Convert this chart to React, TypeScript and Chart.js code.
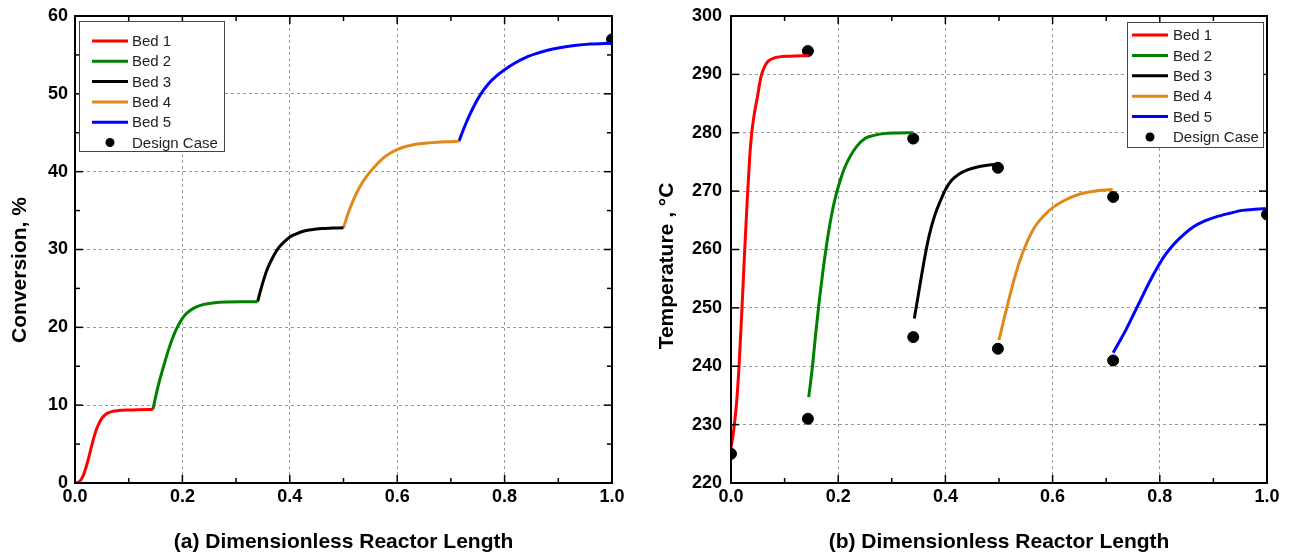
import React, { useEffect, useRef } from "react";
import { Chart, registerables } from "chart.js";
Chart.register(...registerables);

const FONT = "'Liberation Sans', Arial, sans-serif";

// ---------- (a) Conversion ----------
const convBed1X = [0, 0.005, 0.01, 0.015, 0.02, 0.025, 0.03, 0.035, 0.04, 0.045, 0.05, 0.055, 0.06, 0.07, 0.08, 0.1, 0.12, 0.145];
const convBed1Y = [0, 0.05, 0.3, 0.9, 1.9, 3.1, 4.5, 5.8, 6.9, 7.7, 8.3, 8.7, 8.95, 9.2, 9.3, 9.38, 9.42, 9.45];
const convBed2X = [0.145, 0.155, 0.165, 0.175, 0.185, 0.195, 0.205, 0.215, 0.225, 0.24, 0.26, 0.28, 0.31, 0.34];
const convBed2Y = [9.45, 12.5, 15.0, 17.3, 19.2, 20.6, 21.6, 22.2, 22.6, 22.95, 23.15, 23.25, 23.3, 23.3];
const convBed3X = [0.34, 0.345, 0.35, 0.355, 0.36, 0.37, 0.38, 0.39, 0.4, 0.41, 0.425, 0.44, 0.46, 0.48, 0.5];
const convBed3Y = [23.3, 24.6, 25.8, 26.9, 27.8, 29.2, 30.3, 31.0, 31.6, 31.95, 32.35, 32.55, 32.7, 32.75, 32.8];
const convBed4X = [0.5, 0.51, 0.52, 0.53, 0.54, 0.55, 0.56, 0.575, 0.59, 0.61, 0.63, 0.66, 0.69, 0.715];
const convBed4Y = [32.8, 34.9, 36.6, 38.0, 39.1, 40.0, 40.8, 41.8, 42.5, 43.1, 43.45, 43.7, 43.85, 43.9];
const convBed5X = [0.715, 0.725, 0.735, 0.745, 0.755, 0.77, 0.785, 0.8, 0.82, 0.84, 0.86, 0.88, 0.9, 0.93, 0.96, 1.0];
const convBed5Y = [43.9, 45.7, 47.3, 48.7, 49.9, 51.3, 52.3, 53.1, 54.0, 54.7, 55.2, 55.6, 55.9, 56.2, 56.4, 56.5];
const convDesignX = [1.0];
const convDesignY = [57];

// ---------- (b) Temperature ----------
const tempBed1X = [0, 0.005, 0.0106, 0.015, 0.02, 0.0246, 0.03, 0.035, 0.0387, 0.044, 0.049, 0.056, 0.063, 0.07, 0.08, 0.09, 0.11, 0.145];
const tempBed1Y = [226, 229, 234, 240, 249, 258, 268, 276, 280, 283.5, 286, 289.6, 291.4, 292.3, 292.8, 293.0, 293.1, 293.2];
const tempBed2X = [0.145, 0.152, 0.158, 0.165, 0.1725, 0.18, 0.187, 0.195, 0.204, 0.212, 0.222, 0.235, 0.25, 0.265, 0.285, 0.31, 0.34];
const tempBed2Y = [234.7, 240, 245.6, 251.5, 257, 261.8, 265.6, 269, 271.9, 274, 275.9, 277.7, 279, 279.5, 279.85, 279.95, 280];
const tempBed3X = [0.342, 0.349, 0.356, 0.363, 0.37, 0.38, 0.391, 0.401, 0.412, 0.425, 0.44, 0.458, 0.475, 0.49, 0.5];
const tempBed3Y = [248.2, 252, 255.8, 259.4, 262.5, 265.8, 268.4, 270.4, 271.9, 272.9, 273.6, 274.1, 274.4, 274.55, 274.6];
const tempBed4X = [0.5, 0.509, 0.518, 0.528, 0.539, 0.552, 0.567, 0.584, 0.602, 0.622, 0.644, 0.665, 0.687, 0.712];
const tempBed4Y = [244.5, 248, 251.3, 254.8, 258.1, 261.2, 263.9, 265.8, 267.3, 268.4, 269.3, 269.8, 270.1, 270.3];
const tempBed5X = [0.713, 0.724, 0.736, 0.75, 0.764, 0.78, 0.796, 0.811, 0.827, 0.845, 0.863, 0.884, 0.905, 0.93, 0.954, 0.978, 1.0];
const tempBed5Y = [242.3, 244.1, 246.1, 248.7, 251.3, 254.3, 257, 259.2, 261, 262.6, 263.9, 264.9, 265.6, 266.2, 266.7, 266.9, 267];
const tempDesignX = [0, 0.1435, 0.1435, 0.34, 0.34, 0.498, 0.498, 0.713, 0.713, 1.0];
const tempDesignY = [225, 294, 231, 279, 245, 274, 243, 269, 241, 266];

const bedLabels = ["Bed 1", "Bed 2", "Bed 3", "Bed 4", "Bed 5"];
const designLabel = "Design Case";
const bedColors = ["#ff0000", "#008000", "#000000", "#e0881a", "#0000ff"];

const zip = (xs: number[], ys: number[]) => xs.map((x, i) => ({ x, y: ys[i] }));

function buildDatasets(beds: [number[], number[]][], dX: number[], dY: number[]) {
  const ds: any[] = beds.map(([xs, ys], i) => ({
    label: bedLabels[i],
    data: zip(xs, ys),
    showLine: true,
    borderColor: bedColors[i],
    backgroundColor: bedColors[i],
    borderWidth: 3,
    pointRadius: 0,
    cubicInterpolationMode: "monotone",
  }));
  ds.push({
    label: designLabel,
    data: zip(dX, dY),
    showLine: false,
    pointRadius: 5.5,
    pointBackgroundColor: "#000",
    pointBorderColor: "#000",
    backgroundColor: "#000",
  });
  return ds;
}

const decoPlugin = {
  id: "deco",
  afterDatasetsDraw(chart: any, _args: any, opts: any) {
    const { ctx, chartArea: a, scales } = chart;
    const xs = scales.x;
    const ys = scales.y;
    ctx.save();
    ctx.strokeStyle = "#000";
    ctx.lineWidth = 1.5;
    const seg = (x1: number, y1: number, x2: number, y2: number) => {
      ctx.beginPath();
      ctx.moveTo(x1, y1);
      ctx.lineTo(x2, y2);
      ctx.stroke();
    };
    const nx = Math.round((xs.max - xs.min) / opts.xMinor);
    for (let i = 0; i <= nx; i++) {
      const v = xs.min + i * opts.xMinor;
      const px = xs.getPixelForValue(v);
      const len = i % opts.xRatio === 0 ? 8 : 5;
      seg(px, a.bottom, px, a.bottom - len);
      seg(px, a.top, px, a.top + len);
    }
    const ny = Math.round((ys.max - ys.min) / opts.yMinor);
    for (let i = 0; i <= ny; i++) {
      const v = ys.min + i * opts.yMinor;
      const py = ys.getPixelForValue(v);
      const len = i % opts.yRatio === 0 ? 8 : 5;
      seg(a.left, py, a.left + len, py);
      seg(a.right, py, a.right - len, py);
    }
    ctx.lineWidth = 2;
    ctx.strokeRect(a.left, a.top, a.right - a.left, a.bottom - a.top);

    // y-axis title (rotated)
    ctx.fillStyle = "#000";
    ctx.font = `bold 21px ${FONT}`;
    ctx.textAlign = "center";
    ctx.textBaseline = "middle";
    ctx.save();
    ctx.translate(opts.yTitleX, opts.yTitleY);
    ctx.rotate(-Math.PI / 2);
    ctx.fillText(opts.yTitle, 0, 0);
    ctx.restore();

    // legend
    const L = opts.legend;
    const bx = L.fromRight ? a.right - L.dx - L.w : a.left + L.dx;
    const by = a.top + L.dy;
    ctx.fillStyle = "#fff";
    ctx.fillRect(bx, by, L.w, L.h);
    ctx.strokeStyle = "#444";
    ctx.lineWidth = 1;
    ctx.strokeRect(bx + 0.5, by + 0.5, L.w, L.h);
    ctx.font = `15px ${FONT}`;
    ctx.textBaseline = "middle";
    ctx.textAlign = "left";
    const labels = [...bedLabels, designLabel];
    labels.forEach((lab, i) => {
      const ry = by + L.first + i * L.gap;
      const sx1 = bx + L.sx;
      const sx2 = sx1 + 36;
      if (i < bedColors.length) {
        ctx.strokeStyle = bedColors[i];
        ctx.lineWidth = 3;
        seg(sx1, ry, sx2, ry);
      } else {
        ctx.fillStyle = "#000";
        ctx.beginPath();
        ctx.arc((sx1 + sx2) / 2, ry, 4.5, 0, Math.PI * 2);
        ctx.fill();
      }
      ctx.fillStyle = "#222";
      ctx.fillText(lab, bx + L.tx, ry + 1);
    });
    ctx.restore();
  },
};

function makeConfig(p: any) {
  const tickFont = { family: FONT, size: 18, weight: "bold" as const };
  return {
    type: "scatter" as const,
    data: { datasets: p.datasets },
    plugins: [decoPlugin],
    options: {
      animation: false as const,
      responsive: false,
      devicePixelRatio: 1,
      layout: { padding: { left: 0, top: 16, right: p.padRight, bottom: 0 } },
      plugins: {
        legend: { display: false },
        tooltip: { enabled: false },
        deco: p.deco,
      },
      scales: {
        x: {
          type: "linear",
          min: 0,
          max: 1,
          ticks: {
            stepSize: 0.2,
            padding: 3,
            maxRotation: 0,
            color: "#000",
            font: tickFont,
            callback: (v: any) => Number(v).toFixed(1),
          },
          grid: { color: "#9a9a9a", lineWidth: 1, drawTicks: false },
          border: { display: false, dash: [3, 3] },
          title: {
            display: true,
            text: p.xTitle,
            color: "#000",
            font: { family: FONT, size: 21, weight: "bold" },
            padding: { top: 0, bottom: 4 },
          },
          afterFit: (s: any) => {
            s.height = 76;
          },
        },
        y: {
          type: "linear",
          min: p.yMin,
          max: p.yMax,
          ticks: {
            stepSize: 10,
            padding: 0,
            color: "#000",
            font: tickFont,
          },
          grid: {
            color: "#9a9a9a",
            lineWidth: 1,
            drawTicks: true,
            tickLength: p.yPad,
            tickColor: "rgba(0,0,0,0)",
          },
          border: { display: false, dash: [3, 3] },
          title: { display: false },
          afterFit: (s: any) => {
            s.width = p.yWidth;
          },
        },
      },
    },
  };
}

function ChartCanvas({ config, width, height }: { config: any; width: number; height: number }) {
  const ref = useRef<HTMLCanvasElement>(null);
  useEffect(() => {
    if (!ref.current) return;
    const c = new Chart(ref.current, config);
    return () => c.destroy();
  }, [config]);
  return <canvas ref={ref} width={width} height={height} style={{ display: "block", width, height }} />;
}

const configA = makeConfig({
  datasets: buildDatasets(
    [
      [convBed1X, convBed1Y],
      [convBed2X, convBed2Y],
      [convBed3X, convBed3Y],
      [convBed4X, convBed4Y],
      [convBed5X, convBed5Y],
    ],
    convDesignX,
    convDesignY
  ),
  padRight: 33,
  yMin: 0,
  yMax: 60,
  yPad: 7,
  yWidth: 75,
  xTitle: "(a) Dimensionless Reactor Length",
  deco: {
    xMinor: 0.1,
    xRatio: 2,
    yMinor: 5,
    yRatio: 2,
    yTitle: "Conversion, %",
    yTitleX: 20,
    yTitleY: 270,
    legend: { fromRight: false, dx: 4, dy: 5, w: 145, h: 130, first: 20, gap: 20.3, sx: 13, tx: 53 },
  },
});

const configB = makeConfig({
  datasets: buildDatasets(
    [
      [tempBed1X, tempBed1Y],
      [tempBed2X, tempBed2Y],
      [tempBed3X, tempBed3Y],
      [tempBed4X, tempBed4Y],
      [tempBed5X, tempBed5Y],
    ],
    tempDesignX,
    tempDesignY
  ),
  padRight: 24,
  yMin: 220,
  yMax: 300,
  yPad: 9,
  yWidth: 86,
  xTitle: "(b) Dimensionless Reactor Length",
  deco: {
    xMinor: 0.1,
    xRatio: 2,
    yMinor: 10,
    yRatio: 1,
    yTitle: "Temperature , \u00B0C",
    yTitleX: 22,
    yTitleY: 266,
    legend: { fromRight: true, dx: 4, dy: 6, w: 136, h: 125, first: 13, gap: 20.4, sx: 5, tx: 46 },
  },
});

export default function App() {
  return (
    <div style={{ position: "absolute", left: 0, top: 0, width: 1291, height: 559, background: "#fff" }}>
      <div style={{ position: "absolute", left: 0, top: 0 }}>
        <ChartCanvas config={configA} width={645} height={559} />
      </div>
      <div style={{ position: "absolute", left: 645, top: 0 }}>
        <ChartCanvas config={configB} width={646} height={559} />
      </div>
    </div>
  );
}
